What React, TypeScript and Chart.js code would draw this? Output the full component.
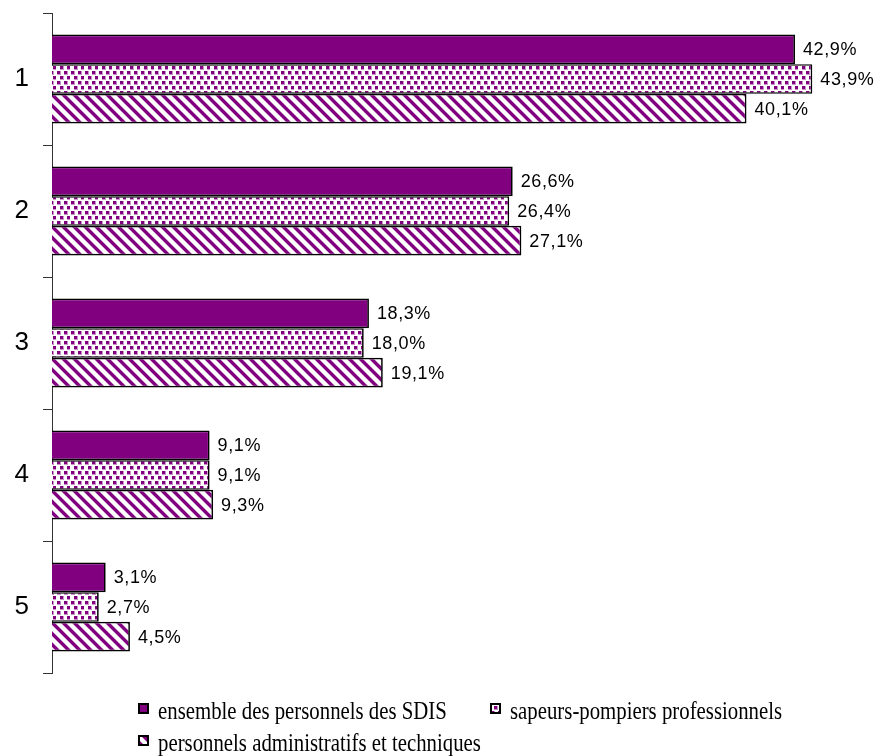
import React, { useEffect, useRef } from 'react';
import { Chart, registerables } from 'chart.js';

Chart.register(...registerables);

const categories = ['1', '2', '3', '4', '5'];
const seriesNames = [
  'ensemble des personnels des SDIS',
  'sapeurs-pompiers professionnels',
  'personnels administratifs et techniques',
];
const ensembleValues = [42.9, 26.6, 18.3, 9.1, 3.1];
const sapeursValues = [43.9, 26.4, 18.0, 9.1, 2.7];
const adminValues = [40.1, 27.1, 19.1, 9.3, 4.5];

const PURPLE = '#800080';
const LIGHT = '#c993c9';

function makeSolid(): string {
  return PURPLE;
}

function makeDots(): CanvasPattern | string {
  const c = document.createElement('canvas');
  c.width = 14;
  c.height = 10;
  const g = c.getContext('2d');
  if (!g) return PURPLE;
  g.fillStyle = '#ffffff';
  g.fillRect(0, 0, 14, 10);
  const dot = (x: number, y: number) => {
    g.fillStyle = LIGHT;
    g.fillRect(x, y, 4, 4);
    g.fillStyle = PURPLE;
    g.fillRect(x, y, 3, 3);
  };
  dot(1, 1);
  dot(8, 1);
  dot(4, 6);
  dot(11, 6);
  return g.createPattern(c, 'repeat') || PURPLE;
}

function makeStripes(): CanvasPattern | string {
  const P = 11;
  const c = document.createElement('canvas');
  c.width = P;
  c.height = P;
  const g = c.getContext('2d');
  if (!g) return PURPLE;
  g.fillStyle = '#ffffff';
  g.fillRect(0, 0, P, P);
  for (let y = 0; y < P; y++) {
    for (let x = 0; x < P; x++) {
      const d = (((x - y) % P) + P) % P;
      if (d < 4) {
        g.fillStyle = PURPLE;
        g.fillRect(x, y, 1, 1);
      } else if (d === 4 || d === P - 1) {
        g.fillStyle = LIGHT;
        g.fillRect(x, y, 1, 1);
      }
    }
  }
  return g.createPattern(c, 'repeat') || PURPLE;
}

function fmt(v: number): string {
  return v.toFixed(1).replace('.', ',') + '%';
}

export default function App() {
  const ref = useRef<HTMLCanvasElement | null>(null);

  useEffect(() => {
    if (!ref.current) return;
    const fills = [makeSolid(), makeDots(), makeStripes()];
    const seriesValues = [ensembleValues, sapeursValues, adminValues];

    const valueLabels = {
      id: 'valueLabels',
      afterDatasetsDraw(chart: any) {
        const ctx = chart.ctx;
        ctx.save();
        ctx.font = '18px "Liberation Sans", Arial, sans-serif';
        (ctx as any).letterSpacing = '0.6px';
        ctx.fillStyle = '#000';
        ctx.textAlign = 'left';
        ctx.textBaseline = 'middle';
        chart.data.datasets.forEach((ds: any, i: number) => {
          const meta = chart.getDatasetMeta(i);
          meta.data.forEach((el: any, j: number) => {
            ctx.fillText(fmt(ds.data[j]), el.x + 8, el.y + 1);
          });
        });
        ctx.restore();
      },
    };

    const legendPlugin = {
      id: 'customLegend',
      afterDraw(chart: any) {
        const ctx = chart.ctx;
        const items = [
          { x: 138, y: 703 },
          { x: 490, y: 703 },
          { x: 138, y: 735 },
        ];
        ctx.save();
        items.forEach((it, i) => {
          ctx.fillStyle = fills[i];
          ctx.fillRect(it.x, it.y, 11, 11);
          ctx.strokeStyle = '#000';
          ctx.lineWidth = 2;
          ctx.strokeRect(it.x + 1, it.y + 1, 9, 9);
          ctx.save();
          ctx.translate(it.x + 20, it.y + 16);
          ctx.scale(0.8, 1);
          ctx.font = '26px "Liberation Serif", "Times New Roman", serif';
          ctx.fillStyle = '#000';
          ctx.textAlign = 'left';
          ctx.textBaseline = 'alphabetic';
          ctx.fillText(seriesNames[i], 0, 0);
          ctx.restore();
        });
        ctx.restore();
      },
    };

    const chart = new Chart(ref.current, {
      type: 'bar',
      data: {
        labels: categories,
        datasets: seriesNames.map((name, i) => ({
          label: name,
          data: seriesValues[i],
          backgroundColor: fills[i] as any,
          borderColor: '#000',
          borderWidth: 1.7,
          categoryPercentage: 0.674,
          barPercentage: 1.0,
        })),
      },
      options: {
        indexAxis: 'y',
        animation: false,
        responsive: false,
        maintainAspectRatio: false,
        events: [],
        layout: { padding: { left: 0, right: 15, top: 13, bottom: 83 } },
        scales: {
          x: {
            display: false,
            min: 0,
            max: 47,
          },
          y: {
            afterFit(scale: any) {
              scale.width = 52;
              scale.paddingTop = 0;
              scale.paddingBottom = 0;
            },
            grid: {
              display: true,
              drawOnChartArea: false,
              drawTicks: true,
              tickLength: 9,
              color: '#333',
              offset: true,
            },
            border: { display: true, color: '#333', width: 1 },
            ticks: {
              color: '#000',
              padding: 14,
              font: { size: 26, family: '"Liberation Sans", Arial, sans-serif' },
            },
          },
        },
        plugins: {
          legend: { display: false },
          tooltip: { enabled: false },
        },
      },
      plugins: [valueLabels, legendPlugin],
    });
    return () => chart.destroy();
  }, []);

  return (
    <div style={{ position: 'absolute', left: 0, top: 0, width: 881, height: 756, background: '#fff' }}>
      <canvas ref={ref} width={881} height={756} style={{ width: 881, height: 756, display: 'block' }} />
    </div>
  );
}
